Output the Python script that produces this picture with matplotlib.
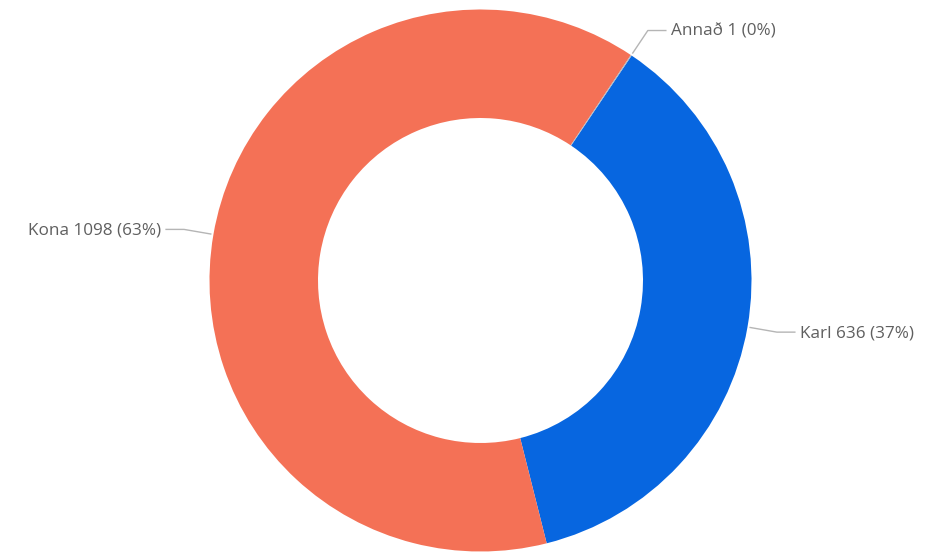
import numpy as np
import matplotlib.pyplot as plt

flokkar = ['Karl', 'Kona', 'Annað']
fjoldi = [636, 1098, 1]
litir = ['#0766E0', '#F47156', '#A9B4BE']

plt.rcParams['font.family'] = ['Open Sans', 'DejaVu Sans']

fig = plt.figure(figsize=(9.35, 5.52), dpi=100)
ax = fig.add_axes([0, 0, 1, 1])

# miðja og radíus í pixlum
cx, cy = 480.5, 271.5
r = 271

wedges, _ = ax.pie(fjoldi, colors=litir, startangle=56.1, counterclock=False,
                   radius=r, center=(cx, cy),
                   wedgeprops=dict(width=108.5, linewidth=0))

ax.set_xlim(0, 935)
ax.set_ylim(0, 552)
ax.set_aspect('equal')
ax.axis('off')

heild = sum(fjoldi)
for w, nafn, v in zip(wedges, flokkar, fjoldi):
    theta = np.deg2rad((w.theta1 + w.theta2) / 2)
    c, s = np.cos(theta), np.sin(theta)
    x0, y0 = cx + 1.01 * r * c, cy + 1.01 * r * s
    x1, y1 = cx + 1.11 * r * c, cy + 1.11 * r * s
    stefna = 1 if c >= 0 else -1
    x2 = x1 + stefna * 18
    ax.plot([x0, x1, x2], [y0, y1, y1], color='#b5b5b5', lw=1)
    pct = round(100 * v / heild)
    ax.text(x2 + stefna * 5, y1 - 1, f'{nafn} {v} ({pct}%)',
            ha='left' if stefna > 0 else 'right', va='center',
            fontsize=12.3, color='#5f5f5f')

plt.savefig('out.png', dpi=100)
